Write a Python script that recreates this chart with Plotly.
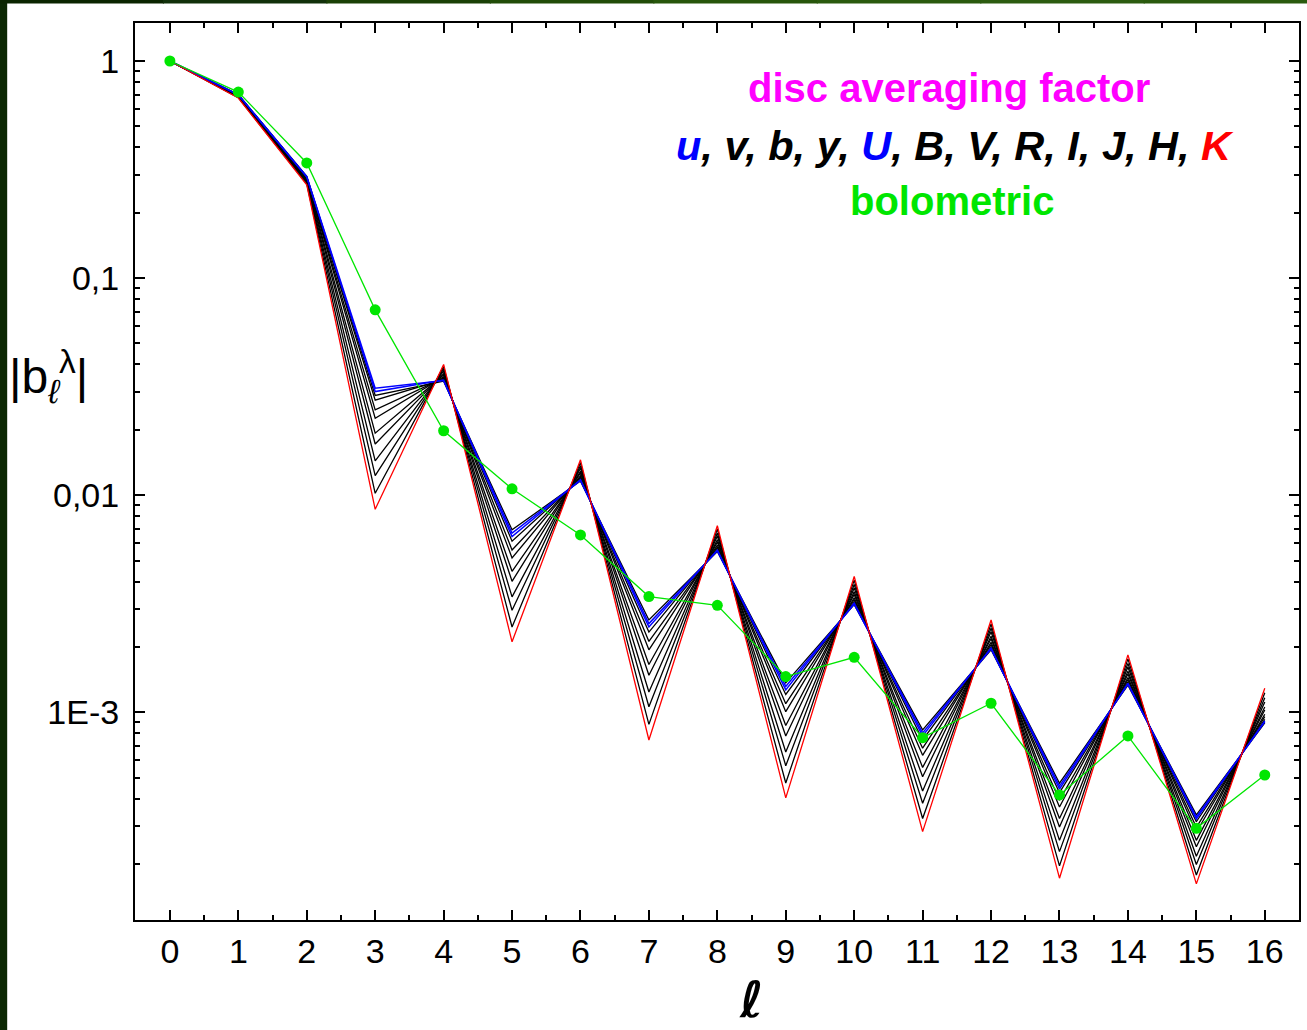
import plotly.graph_objects as go

ell = list(range(17))

# disc averaging factors |b_l^lambda| per photometric band
band_v = [1, 0.700, 0.294, 0.0288, 0.0335, 0.00692, 0.01161, 0.00266, 0.00550, 0.001365, 0.00313, 0.000830, 0.00194, 0.000471, 0.001334, 0.000337, 0.000893]
band_u = [1, 0.699, 0.293, 0.0311, 0.0337, 0.00668, 0.01169, 0.00256, 0.00554, 0.001315, 0.00315, 0.000803, 0.00196, 0.000457, 0.001347, 0.000329, 0.000903]
band_U = [1, 0.698, 0.292, 0.0300, 0.0339, 0.00644, 0.01177, 0.00247, 0.00559, 0.001268, 0.00318, 0.000778, 0.00198, 0.000443, 0.001359, 0.000322, 0.000913]
band_b = [1, 0.697, 0.291, 0.0274, 0.0341, 0.00614, 0.01188, 0.00234, 0.00565, 0.001208, 0.00322, 0.000745, 0.00200, 0.000426, 0.001377, 0.000313, 0.000927]
band_y = [1, 0.695, 0.289, 0.0247, 0.0346, 0.00559, 0.01209, 0.00212, 0.00577, 0.001095, 0.00330, 0.000683, 0.00205, 0.000393, 0.001413, 0.000295, 0.000955]
band_B = [1, 0.694, 0.288, 0.0226, 0.0350, 0.00514, 0.01229, 0.00194, 0.00589, 0.001006, 0.00337, 0.000633, 0.00210, 0.000366, 0.001445, 0.000280, 0.000979]
band_V = [1, 0.690, 0.285, 0.0193, 0.0358, 0.00446, 0.01263, 0.00166, 0.00608, 0.000869, 0.00349, 0.000557, 0.00218, 0.000324, 0.001501, 0.000257, 0.001024]
band_R = [1, 0.688, 0.282, 0.0172, 0.0363, 0.00401, 0.01288, 0.00148, 0.00623, 0.000778, 0.00359, 0.000505, 0.00224, 0.000296, 0.001545, 0.000240, 0.001058]
band_I = [1, 0.685, 0.279, 0.0144, 0.0373, 0.00340, 0.01330, 0.00124, 0.00648, 0.000656, 0.00374, 0.000434, 0.00235, 0.000257, 0.001616, 0.000217, 0.001114]
band_J = [1, 0.682, 0.276, 0.0123, 0.0381, 0.00295, 0.01366, 0.00106, 0.00669, 0.000567, 0.00388, 0.000381, 0.00244, 0.000228, 0.001679, 0.000199, 0.001165]
band_H = [1, 0.678, 0.272, 0.0102, 0.0391, 0.00247, 0.01413, 0.000879, 0.00698, 0.000472, 0.00406, 0.000324, 0.00255, 0.000196, 0.001762, 0.000178, 0.001231]
band_K = [1, 0.675, 0.269, 0.00861, 0.0400, 0.00211, 0.01455, 0.000745, 0.00723, 0.000403, 0.00422, 0.000282, 0.00266, 0.000172, 0.001837, 0.000162, 0.001291]
bolometric = [1.0, 0.719, 0.339, 0.0714, 0.0198, 0.0107, 0.00656, 0.00341, 0.00311, 0.00146, 0.00179, 0.000764, 0.00110, 0.000416, 0.000778, 0.000292, 0.000514]

y_tickvals = [1, 0.1, 0.01, 0.001]
y_ticktext = ["1", "0,1", "0,01", "1E-3"]

black_bands = [("v", band_v), ("b", band_b), ("y", band_y), ("B", band_B), ("V", band_V),
               ("R", band_R), ("I", band_I), ("J", band_J), ("H", band_H)]
blue_bands = [("u", band_u), ("U", band_U)]
red_bands = [("K", band_K)]

fig = go.Figure()
for name, vals in black_bands:
    fig.add_trace(go.Scatter(x=ell, y=vals, mode="lines", name=name,
                             line=dict(color="black", width=1.3)))
for name, vals in blue_bands:
    fig.add_trace(go.Scatter(x=ell, y=vals, mode="lines", name=name,
                             line=dict(color="#0000ff", width=1.5)))
for name, vals in red_bands:
    fig.add_trace(go.Scatter(x=ell, y=vals, mode="lines", name=name,
                             line=dict(color="#ff0000", width=1.3)))
fig.add_trace(go.Scatter(x=ell, y=bolometric, mode="lines+markers", name="bolometric",
                         line=dict(color="#00e600", width=1.3),
                         marker=dict(color="#00e600", size=11)))

minor_y = []
for d in [0.0001, 0.001, 0.01, 0.1, 1]:
    for k in range(2, 10):
        minor_y.append(k * d)

axis_common = dict(showline=True, linecolor="black", linewidth=2, mirror="allticks",
                   ticks="inside", tickcolor="black", tickwidth=2, ticklen=10,
                   showgrid=False, zeroline=False,
                   tickfont=dict(family="Liberation Sans, Arial", size=34, color="black"))

fig.update_xaxes(range=[-0.51, 16.5], tickmode="array", tickvals=ell,
                 ticktext=[str(v) for v in ell],
                 minor=dict(ticks="inside", ticklen=5, tickwidth=1.5, tickcolor="black",
                            tickmode="array", tickvals=[v + 0.5 for v in range(-1, 17)]),
                 **axis_common)
fig.update_yaxes(type="log", range=[-3.957, 0.175], tickmode="array",
                 tickvals=y_tickvals, ticktext=y_ticktext, ticklabelstandoff=7,
                 minor=dict(ticks="inside", ticklen=5, tickwidth=1.5, tickcolor="black",
                            tickmode="array", tickvals=minor_y),
                 **axis_common)

shapes = []
# dark green frame strips (left and top)
shapes.append(dict(type="rect", xref="paper", yref="paper", x0=-0.1165, x1=-0.1098,
                   y0=-0.125, y1=1.03, fillcolor="#0b2702", line=dict(width=0), layer="below"))
top_cols = ["#0a2400", "#11300a", "#1a4006", "#214c08", "#27560b", "#2a5a0e", "#2c5c10", "#2a5a0e"]
n = len(top_cols)
for i, c in enumerate(top_cols):
    x0 = -0.1165 + i * (1.007 + 0.1165) / n
    x1 = -0.1165 + (i + 1) * (1.007 + 0.1165) / n
    shapes.append(dict(type="rect", xref="paper", yref="paper", x0=x0, x1=x1 + 0.001,
                       y0=1.0218, y1=1.03, fillcolor=c, line=dict(width=0), layer="below"))

annotations = [
    dict(x=0.6994, y=0.9275, xref="paper", yref="paper", showarrow=False,
         xanchor="center", yanchor="middle",
         text="<b>disc averaging factor</b>",
         font=dict(family="Liberation Sans, Arial", size=40, color="#ff00ff")),
    dict(x=0.7045, y=0.8629, xref="paper", yref="paper", showarrow=False,
         xanchor="center", yanchor="middle",
         text="<b><i><span style='color:#0000ff'>u</span>, v, b, y, "
              "<span style='color:#0000ff'>U</span>, B, V, R, I, J, H, "
              "<span style='color:#ff0000'>K</span></i></b>",
         font=dict(family="Liberation Sans, Arial", size=41.5, color="black")),
    dict(x=0.7015, y=0.8016, xref="paper", yref="paper", showarrow=False,
         xanchor="center", yanchor="middle",
         text="<b>bolometric</b>",
         font=dict(family="Liberation Sans, Arial", size=40, color="#00e600")),
    dict(x=8.5, xref="x", y=-0.0892, yref="paper", showarrow=False,
         xanchor="center", yanchor="middle",
         text="ℓ",
         font=dict(family="DejaVu Sans", size=50, color="black", weight="bold")),
    dict(x=-0.0746, y=0.606, xref="paper", yref="paper", showarrow=False,
         xanchor="center", yanchor="middle",
         text="|b<sub><i>ℓ</i></sub><sup>λ</sup>|",
         font=dict(family="Liberation Sans, Arial", size=48, color="black")),
]

fig.update_layout(width=1307, height=1030, autosize=False,
                  margin=dict(l=135, r=6, t=23, b=110),
                  paper_bgcolor="white", plot_bgcolor="white",
                  showlegend=False, shapes=shapes, annotations=annotations)

post = ("document.body.style.margin='0';document.body.style.padding='0';"
        "document.body.style.overflow='hidden';"
        "var gd=document.getElementById('{plot_id}');"
        "Plotly.relayout(gd,{width:1307,height:1030});")

fig.write_html("out.html", post_script=post, config={"displayModeBar": False})
